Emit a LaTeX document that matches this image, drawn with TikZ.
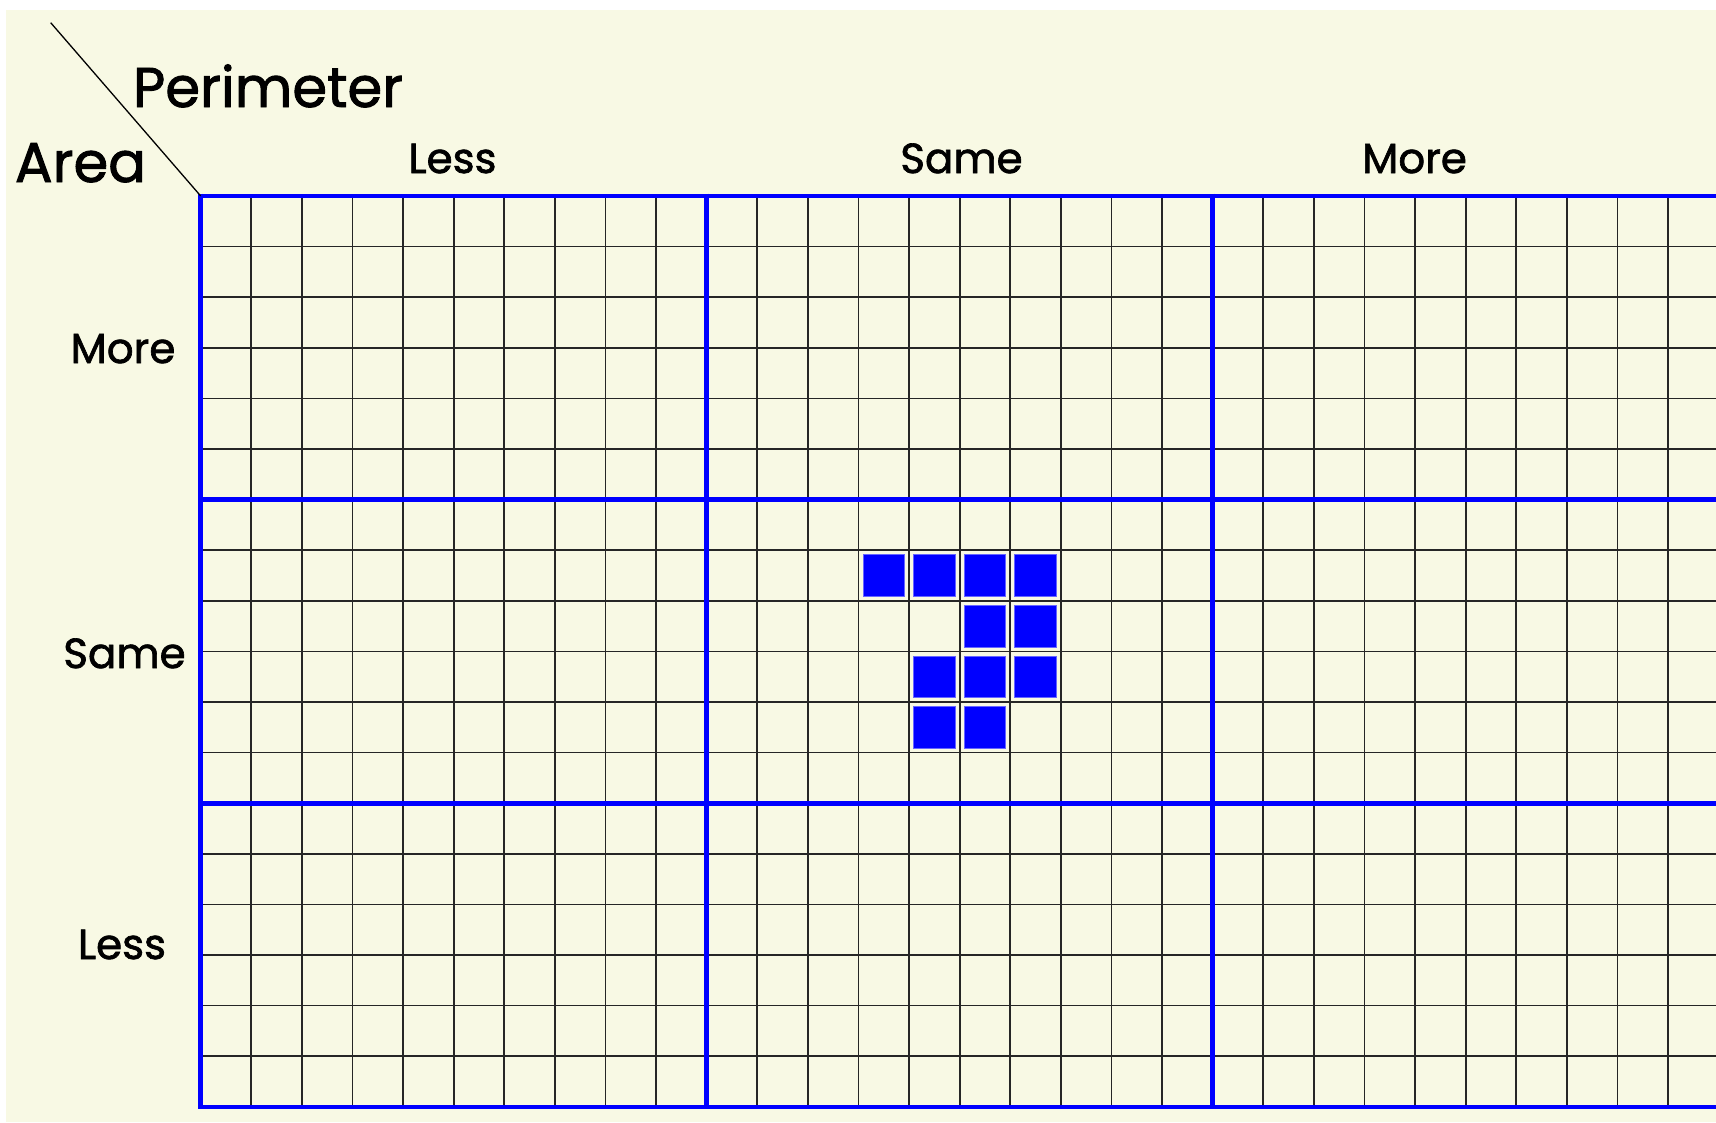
\documentclass[tikz,border=0pt]{standalone}
\usepackage{fontspec}
\setmainfont[FakeBold=1.6]{Poppins}
\definecolor{cream}{RGB}{248,249,228}
\definecolor{gridblue}{RGB}{0,0,255}
\begin{document}
\begin{tikzpicture}[x=1pt,y=-1pt,
  bigtxt/.style={inner sep=0pt,anchor=base,font=\fontsize{56}{60}\selectfont},
  lbl/.style={inner sep=0pt,anchor=base,font=\fontsize{42}{46}\selectfont},
  thin grid/.style={line width=1.7pt,black!85},
  thick grid/.style={line width=4.6pt,gridblue},
  tile/.style={fill=gridblue,draw=gridblue!60,line width=0.8pt}]
\useasboundingbox (0,0) rectangle (1716,1122);
\fill[white] (0,0) rectangle (1716,1122);
\fill[cream] (6,10) rectangle (1716,1122);
\def\xo{200.7}\def\yo{196}\def\cs{50.6}
\begin{scope}
\clip (0,0) rectangle (1716,1122);
% thin lines
\foreach \i in {1,...,30}{
  \draw[thin grid] ({\xo+\i*\cs},\yo) -- ({\xo+\i*\cs},{\yo+18*\cs});
}
\foreach \j in {1,...,17}{
  \draw[thin grid] (\xo,{\yo+\j*\cs}) -- (1716,{\yo+\j*\cs});
}
% tiles
\foreach \c/\r in {13/7,14/7,15/7,16/7,15/8,16/8,14/9,15/9,16/9,14/10,15/10}{
  \draw[tile] ({\xo+\c*\cs+4.5},{\yo+\r*\cs+4.5}) rectangle ({\xo+(\c+1)*\cs-4.5},{\yo+(\r+1)*\cs-4.5});
}
% thick lines
\foreach \i in {0,10,20,30}{
  \draw[thick grid] ({\xo+\i*\cs},{\yo-2.3}) -- ({\xo+\i*\cs},{\yo+18*\cs+2.3});
}
\foreach \j in {0,6,12,18}{
  \draw[thick grid] ({\xo-2.3},{\yo+\j*\cs}) -- (1716,{\yo+\j*\cs});
}
\end{scope}
\coordinate (corner) at (\xo,\yo);
\coordinate (dtop) at (50.7,22.7);
\draw[line width=1.3pt,black] (dtop) -- (corner);
\node[bigtxt] (perim) at (268,107) {Perimeter};
\node[bigtxt] (area) at (80.5,182) {Area};
\node[lbl] (tless) at (452.5,173) {Less};
\node[lbl] (tsame) at (961.5,173) {Same};
\node[lbl] (tmore) at (1414.5,173) {More};
\node[lbl] (lmore) at (123,363) {More};
\node[lbl] (lsame) at (124.5,668) {Same};
\node[lbl] (lless) at (122,959) {Less};
\end{tikzpicture}
\end{document}
